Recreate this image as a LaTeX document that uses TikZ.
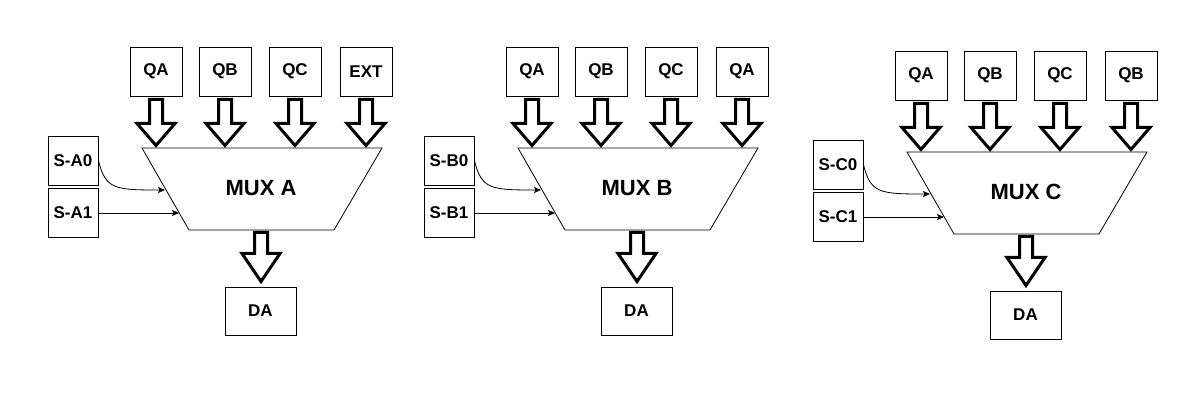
\documentclass[tikz,border=0pt]{standalone}
\usepackage{fontspec}
\setmainfont{Liberation Sans}
\usetikzlibrary{arrows.meta,calc}
\tikzset{
  box/.style={draw=black, line width=0.9pt, inner sep=0pt, font=\bfseries\fontsize{17}{20}\selectfont},
  inbox/.style={box, minimum width=52pt, minimum height=49pt},
  selbox/.style={box, minimum width=50pt, minimum height=49pt},
  outbox/.style={box, minimum width=71pt, minimum height=48pt},
  muxline/.style={draw=black, line width=0.8pt},
  muxlabel/.style={font=\bfseries\fontsize{22}{26}\selectfont, inner sep=0pt},
  sel/.style={draw=black, line width=0.8pt, -{Stealth[length=7pt,width=6pt,inset=1.5pt]}},
  blockarrow/.style={draw=black, line width=3pt, fill=white, miter limit=4,
    to path={let \p1=(\tikztostart), \p2=(\tikztotarget) in
      (\x1-6.5pt,\y1) -- (\x1-6.5pt,\y2+#1) -- (\x1-19pt,\y2+#1) -- (\x1,\y2)
      -- (\x1+19pt,\y2+#1) -- (\x1+6.5pt,\y2+#1) -- (\x1+6.5pt,\y1) -- cycle}},
  blockarrow/.default=22pt
}
\newcommand\muxunit[7]{%
  \node[inbox] (#1i1) at (156+#2,71.5+#3) {#4};
  \node[inbox] (#1i2) at (225+#2,71.5+#3) {#5};
  \node[inbox] (#1i3) at (295+#2,71.5+#3) {#6};
  \node[inbox] (#1i4) at (366+#2,71.5+#3) {#7};
  \coordinate (#1tl) at (142+#2,148+#3);
  \coordinate (#1tr) at (382+#2,148+#3);
  \coordinate (#1br) at (334+#2,230+#3);
  \coordinate (#1bl) at (189+#2,230+#3);
  \draw[muxline] (#1tl) -- (#1tr) -- (#1br) -- (#1bl) -- cycle;
  \node[muxlabel] (#1mux) at (261+#2,188+#3) {MUX #1};
  \node[selbox] (#1s0) at (73+#2,160.5+#3) {S-#10};
  \node[selbox] (#1s1) at (73+#2,213+#3) {S-#11};
  \node[outbox] (#1d) at (260.5+#2,311+#3) {DA};
  \coordinate (#1e0) at (165+#2,190+#3);
  \coordinate (#1e1) at (179+#2,213+#3);
  \draw[sel] (#1s0.east) .. controls +(7,29) and +(-50,0) .. (#1e0);
  \draw[sel] (#1s1.east) -- (#1e1);
  \foreach \k in {1,...,4}{
    \coordinate (#1a\k) at ($(#1i\k.south)+(0,3)$);
    \coordinate (#1t\k) at ($(#1i\k.south |- #1tl)+(0,-2.5)$);
    \draw[blockarrow] (#1a\k) to (#1t\k);
  }
  \coordinate (#1oa) at (261+#2,232.5+#3);
  \coordinate (#1ot) at (261+#2,281.5+#3);
  \draw[blockarrow=28pt] (#1oa) to (#1ot);
}
\begin{document}
\begin{tikzpicture}[x=1pt,y=-1pt]
  \fill[white] (0,0) rectangle (1203,403);
  \useasboundingbox (0,0) rectangle (1203,403);
  \muxunit{A}{0}{0}{QA}{QB}{QC}{EXT}
  \muxunit{B}{376}{0}{QA}{QB}{QC}{QA}
  \muxunit{C}{765}{4}{QA}{QB}{QC}{QB}
\end{tikzpicture}
\end{document}
